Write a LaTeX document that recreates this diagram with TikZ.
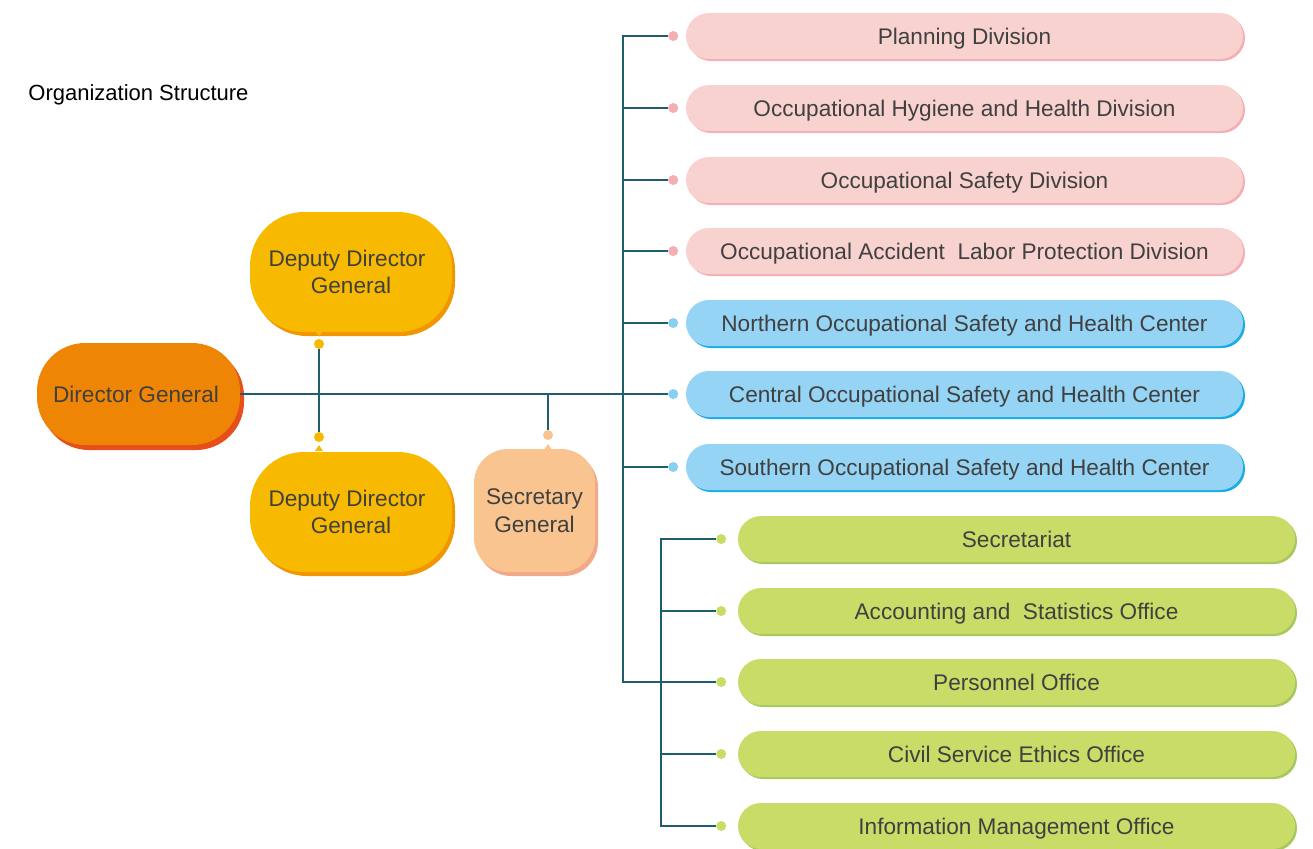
\documentclass[tikz,border=0pt]{standalone}
\usepackage{fontspec}
\setmainfont{Liberation Sans}
\usetikzlibrary{positioning,calc,shadows}
\tikzset{>=stealth}

\definecolor{txt}{HTML}{404040}
\definecolor{linecol}{HTML}{1E5F6C}
\definecolor{dgfill}{HTML}{EF8505}
\definecolor{dgshade}{HTML}{E84E1B}
\definecolor{ddgfill}{HTML}{F7BA00}
\definecolor{ddgshade}{HTML}{F29600}
\definecolor{sgfill}{HTML}{F9C490}
\definecolor{sgshade}{HTML}{F2A98A}
\definecolor{pinkfill}{HTML}{F8D2CE}
\definecolor{pinkshade}{HTML}{F4AFB6}
\definecolor{bluefill}{HTML}{95D4F4}
\definecolor{blueshade}{HTML}{17ACE8}
\definecolor{greenfill}{HTML}{C9DC68}
\definecolor{greenshade}{HTML}{A6C85E}

\tikzset{
  box/.style={text=txt,align=center,inner sep=0pt,font=\fontsize{11.3}{13.8}\selectfont},
  dgbox/.style={box,fill=dgfill,rounded corners=24pt,minimum width=101.5pt,minimum height=51pt,
    drop shadow={shadow xshift=2pt,shadow yshift=-2.5pt,fill=dgshade,opacity=1}},
  ddgbox/.style={box,fill=ddgfill,rounded corners=27pt,minimum width=101pt,minimum height=60pt,
    drop shadow={shadow xshift=1.5pt,shadow yshift=-2pt,fill=ddgshade,opacity=1}},
  sgbox/.style={box,fill=sgfill,rounded corners=17pt,minimum width=60.5pt,minimum height=61.5pt,
    drop shadow={shadow xshift=1.5pt,shadow yshift=-2pt,fill=sgshade,opacity=1}},
  pill/.style={box,minimum width=278.5pt,minimum height=23pt,rounded corners=11.5pt,
    text height=8.1pt,text depth=0pt},
  pinkpill/.style={pill,fill=pinkfill,drop shadow={shadow xshift=1pt,shadow yshift=-1pt,fill=pinkshade,opacity=1}},
  bluepill/.style={pill,fill=bluefill,drop shadow={shadow xshift=1pt,shadow yshift=-1pt,fill=blueshade,opacity=1}},
  greenpill/.style={pill,fill=greenfill,drop shadow={shadow xshift=1pt,shadow yshift=-1pt,fill=greenshade,opacity=1}},
  knob/.style={circle,inner sep=0pt,minimum size=5pt},
  link/.style={draw=linecol,line width=.7pt}
}

\begin{document}
\begin{tikzpicture}[x=.5pt,y=-.5pt]
\useasboundingbox (0,0) rectangle (1313,848);
\node[anchor=west,inner sep=0pt,font=\fontsize{11}{13}\selectfont] (title) at (28,95) {Organization Structure};

% left part
\node[dgbox] (DG) at (138.5,394) {Director General\hspace*{2.5pt}};
\node[ddgbox] (DDGa) at (351,272) {Deputy Director\hspace*{4pt}\\ General};
\node[ddgbox] (DDGb) at (351,512) {Deputy Director\hspace*{4pt}\\ General};
\node[sgbox] (SG) at (534.5,510.5) {Secretary\\ General};
\fill[ddgfill] ($(319,331)+(-4,0)$) -- (319,336) -- ($(319,331)+(4,0)$) -- cycle;
\fill[ddgfill] ($(319,451)+(-4,0)$) -- (319,445) -- ($(319,451)+(4,0)$) -- cycle;
\fill[sgfill] ($(548,450)+(-4,0)$) -- (548,444) -- ($(548,450)+(4,0)$) -- cycle;
\node[knob,fill=ddgfill] (dDDGa) at (319,344) {};
\node[knob,fill=ddgfill] (dDDGb) at (319,437) {};
\node[knob,fill=sgfill] (dSG) at (548,435) {};

% divisions and centers
\node[pinkpill] (plan) at (964.5,36) {Planning Division};
\node[pinkpill] (hyg) at (964.5,108) {Occupational Hygiene and Health Division};
\node[pinkpill] (safe) at (964.5,180) {Occupational Safety Division};
\node[pinkpill] (acc) at (964.5,251) {Occupational Accident\ \ Labor Protection Division};
\node[bluepill] (north) at (964.5,323) {Northern Occupational Safety and Health Center};
\node[bluepill] (cent) at (964.5,394) {Central Occupational Safety and Health Center};
\node[bluepill] (south) at (964.5,467) {Southern Occupational Safety and Health Center};
\node[knob,fill=pinkshade,left=3.5pt of plan] (dplan) {};
\node[knob,fill=pinkshade,left=3.5pt of hyg] (dhyg) {};
\node[knob,fill=pinkshade,left=3.5pt of safe] (dsafe) {};
\node[knob,fill=pinkshade,left=3.5pt of acc] (dacc) {};
\node[knob,fill=bluefill!90!blueshade,left=3.5pt of north] (dnorth) {};
\node[knob,fill=bluefill!90!blueshade,left=3.5pt of cent] (dcent) {};
\node[knob,fill=bluefill!90!blueshade,left=3.5pt of south] (dsouth) {};

% offices
\node[greenpill] (secr) at (1016.5,539) {Secretariat};
\node[greenpill] (acct) at (1016.5,611) {Accounting and\ \ Statistics Office};
\node[greenpill] (pers) at (1016.5,682) {Personnel Office};
\node[greenpill] (ethic) at (1016.5,754) {Civil Service Ethics Office};
\node[greenpill] (info) at (1016.5,826) {Information Management Office};
\node[knob,fill=greenfill,left=5.5pt of secr] (dsecr) {};
\node[knob,fill=greenfill,left=5.5pt of acct] (dacct) {};
\node[knob,fill=greenfill,left=5.5pt of pers] (dpers) {};
\node[knob,fill=greenfill,left=5.5pt of ethic] (dethic) {};
\node[knob,fill=greenfill,left=5.5pt of info] (dinfo) {};

% connectors
\coordinate (busA) at (623,682);
\coordinate (busB) at (661,826);
\draw[link] (DG.east) -- (dcent);
\draw[link] (dDDGa) -- (dDDGb);
\draw[link] (dSG) -- (dSG |- DG.east);
\draw[link] (dplan) -| (busA) -- (dpers);
\draw[link] (dhyg) -- (dhyg -| busA);
\draw[link] (dsafe) -- (dsafe -| busA);
\draw[link] (dacc) -- (dacc -| busA);
\draw[link] (dnorth) -- (dnorth -| busA);
\draw[link] (dsouth) -- (dsouth -| busA);
\draw[link] (dsecr) -| (busB) -- (dinfo);
\draw[link] (dacct) -- (dacct -| busB);
\draw[link] (dethic) -- (dethic -| busB);
\end{tikzpicture}
\end{document}
